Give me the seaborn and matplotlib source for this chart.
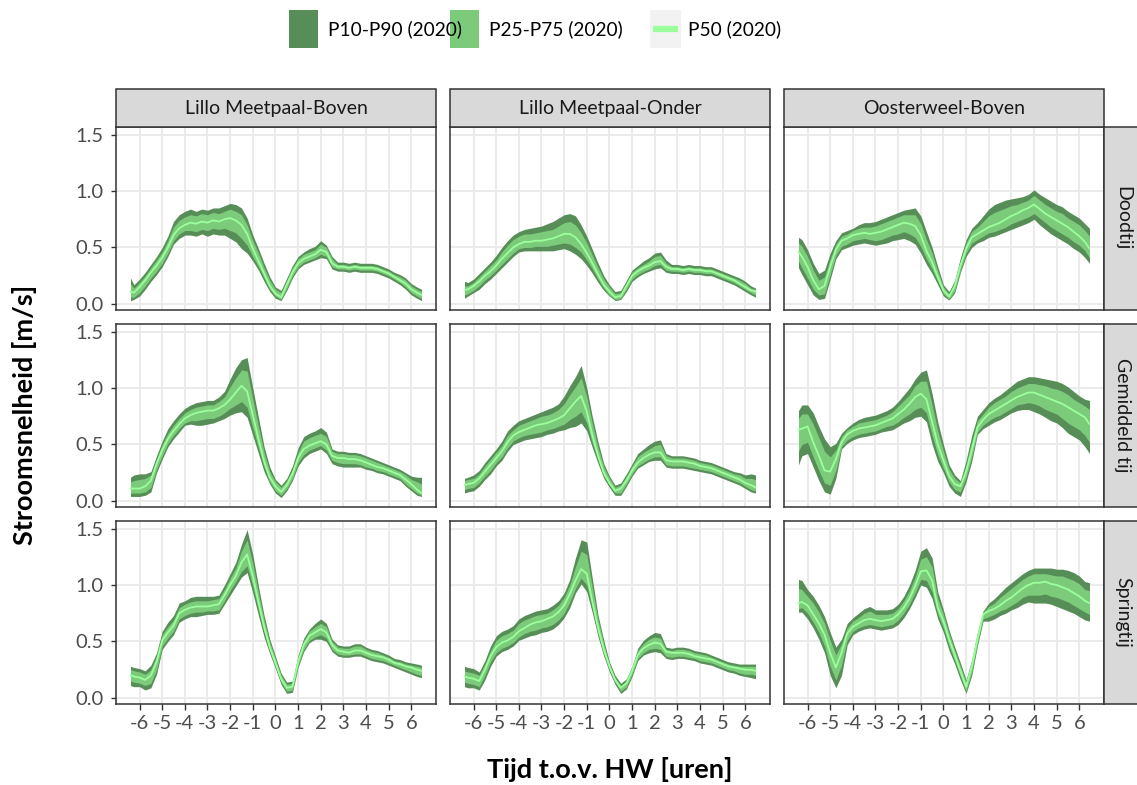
import matplotlib
matplotlib.use("Agg")
import matplotlib.pyplot as plt
from matplotlib.patches import Rectangle
from matplotlib.lines import Line2D
import pandas as pd
import seaborn as sns

# ---------------------------------------------------------------------------
# Time relative to high water (hours)
uren = [-6.4, -6.25, -6.0, -5.75, -5.5, -5.25, -5.0, -4.75, -4.5, -4.25,
        -4.0, -3.75, -3.5, -3.25, -3.0, -2.75, -2.5, -2.25, -2.0, -1.75,
        -1.5, -1.25, -1.0, -0.75, -0.5, -0.25, 0.0, 0.25, 0.5, 0.75,
        1.0, 1.25, 1.5, 1.75, 2.0, 2.25, 2.5, 2.75, 3.0, 3.25,
        3.5, 3.75, 4.0, 4.25, 4.5, 4.75, 5.0, 5.25, 5.5, 5.75,
        6.0, 6.25, 6.45]

stations = ["Lillo Meetpaal-Boven", "Lillo Meetpaal-Onder", "Oosterweel-Boven"]
tijen = ["Doodtij", "Gemiddeld tij", "Springtij"]

# ---------------- Lillo Meetpaal-Boven ----------------
lmb_dood_p10 = [0.03,0.04,0.07,0.13,0.20,0.26,0.33,0.42,0.53,0.58,0.61,0.61,0.60,0.62,0.60,0.62,0.61,0.61,0.58,0.55,0.49,0.45,0.38,0.30,0.20,0.11,0.05,0.03,0.12,0.23,0.31,0.35,0.37,0.39,0.41,0.40,0.31,0.29,0.29,0.28,0.29,0.28,0.28,0.28,0.27,0.25,0.23,0.20,0.17,0.13,0.08,0.05,0.03]
lmb_dood_p25 = [0.06,0.06,0.10,0.16,0.23,0.29,0.36,0.45,0.56,0.62,0.65,0.65,0.64,0.66,0.65,0.67,0.66,0.67,0.65,0.63,0.58,0.52,0.42,0.33,0.23,0.13,0.07,0.04,0.14,0.25,0.33,0.37,0.39,0.41,0.44,0.42,0.33,0.31,0.31,0.30,0.31,0.30,0.30,0.30,0.29,0.27,0.25,0.22,0.19,0.15,0.10,0.07,0.05]
lmb_dood_p50 = [0.11,0.10,0.15,0.21,0.28,0.34,0.41,0.50,0.61,0.67,0.70,0.72,0.71,0.73,0.72,0.74,0.73,0.75,0.76,0.74,0.70,0.62,0.49,0.38,0.27,0.16,0.09,0.06,0.17,0.28,0.36,0.40,0.42,0.44,0.48,0.46,0.36,0.33,0.33,0.32,0.33,0.32,0.32,0.32,0.31,0.29,0.27,0.24,0.21,0.18,0.13,0.10,0.08]
lmb_dood_p75 = [0.18,0.14,0.19,0.25,0.32,0.39,0.46,0.56,0.68,0.74,0.77,0.79,0.78,0.80,0.79,0.81,0.80,0.82,0.84,0.82,0.79,0.70,0.56,0.45,0.32,0.21,0.13,0.10,0.21,0.32,0.40,0.44,0.46,0.48,0.53,0.50,0.40,0.35,0.35,0.34,0.35,0.34,0.34,0.34,0.33,0.31,0.29,0.26,0.24,0.21,0.16,0.13,0.11]
lmb_dood_p90 = [0.23,0.17,0.22,0.28,0.35,0.42,0.50,0.60,0.73,0.79,0.82,0.84,0.82,0.84,0.83,0.85,0.85,0.87,0.89,0.88,0.85,0.76,0.61,0.49,0.36,0.24,0.15,0.12,0.23,0.34,0.42,0.46,0.49,0.51,0.56,0.52,0.42,0.37,0.37,0.36,0.37,0.36,0.36,0.36,0.35,0.33,0.31,0.28,0.26,0.23,0.18,0.15,0.13]

lmb_gem_p10 = [0.04,0.04,0.04,0.05,0.08,0.25,0.37,0.48,0.55,0.61,0.67,0.68,0.67,0.67,0.68,0.69,0.71,0.73,0.76,0.78,0.79,0.74,0.58,0.42,0.26,0.15,0.07,0.03,0.09,0.18,0.31,0.38,0.42,0.44,0.46,0.42,0.33,0.31,0.30,0.30,0.30,0.30,0.28,0.27,0.25,0.24,0.22,0.20,0.18,0.13,0.09,0.05,0.04]
lmb_gem_p25 = [0.07,0.07,0.07,0.08,0.12,0.28,0.40,0.51,0.58,0.64,0.69,0.71,0.71,0.72,0.73,0.73,0.75,0.78,0.82,0.85,0.88,0.83,0.65,0.47,0.30,0.17,0.09,0.05,0.11,0.20,0.34,0.41,0.45,0.47,0.49,0.45,0.36,0.34,0.33,0.33,0.33,0.32,0.30,0.29,0.27,0.26,0.24,0.22,0.20,0.15,0.11,0.07,0.05]
lmb_gem_p50 = [0.11,0.11,0.11,0.13,0.18,0.33,0.45,0.55,0.62,0.68,0.73,0.76,0.78,0.79,0.80,0.80,0.82,0.85,0.90,0.96,1.02,0.97,0.76,0.55,0.35,0.21,0.13,0.08,0.14,0.24,0.38,0.46,0.49,0.51,0.53,0.50,0.40,0.38,0.38,0.37,0.37,0.36,0.34,0.32,0.30,0.29,0.27,0.25,0.23,0.19,0.15,0.10,0.07]
lmb_gem_p75 = [0.17,0.18,0.19,0.20,0.23,0.37,0.50,0.60,0.67,0.73,0.78,0.81,0.83,0.84,0.85,0.85,0.88,0.92,1.01,1.09,1.16,1.15,0.90,0.66,0.43,0.26,0.17,0.12,0.18,0.28,0.43,0.53,0.56,0.58,0.60,0.57,0.44,0.42,0.42,0.41,0.41,0.40,0.38,0.36,0.34,0.32,0.30,0.28,0.26,0.23,0.19,0.17,0.15]
lmb_gem_p90 = [0.21,0.23,0.24,0.24,0.26,0.40,0.53,0.64,0.71,0.77,0.82,0.85,0.87,0.88,0.89,0.89,0.92,0.97,1.08,1.18,1.25,1.27,1.00,0.74,0.48,0.30,0.19,0.14,0.20,0.31,0.47,0.57,0.60,0.62,0.65,0.61,0.46,0.44,0.44,0.43,0.43,0.42,0.40,0.38,0.36,0.34,0.32,0.30,0.28,0.25,0.22,0.21,0.21]

lmb_spring_p10 = [0.11,0.10,0.10,0.07,0.09,0.21,0.43,0.50,0.56,0.67,0.70,0.72,0.72,0.73,0.74,0.74,0.75,0.83,0.91,0.99,1.07,1.11,0.93,0.73,0.54,0.39,0.26,0.12,0.04,0.05,0.27,0.41,0.49,0.52,0.52,0.50,0.41,0.37,0.36,0.36,0.37,0.37,0.35,0.33,0.32,0.31,0.29,0.27,0.25,0.23,0.21,0.19,0.18]
lmb_spring_p25 = [0.15,0.14,0.13,0.11,0.13,0.25,0.46,0.53,0.59,0.70,0.73,0.75,0.76,0.76,0.77,0.77,0.78,0.86,0.95,1.03,1.12,1.17,0.99,0.78,0.58,0.41,0.28,0.14,0.06,0.07,0.29,0.43,0.51,0.54,0.56,0.53,0.43,0.39,0.38,0.38,0.39,0.39,0.37,0.35,0.34,0.33,0.31,0.29,0.27,0.25,0.23,0.21,0.20]
lmb_spring_p50 = [0.20,0.19,0.18,0.16,0.20,0.32,0.51,0.58,0.64,0.75,0.78,0.80,0.81,0.81,0.81,0.82,0.83,0.91,1.00,1.08,1.20,1.27,1.08,0.85,0.63,0.45,0.31,0.17,0.09,0.10,0.32,0.47,0.55,0.58,0.61,0.58,0.47,0.42,0.41,0.40,0.42,0.42,0.40,0.38,0.37,0.36,0.34,0.31,0.30,0.28,0.27,0.25,0.24]
lmb_spring_p75 = [0.25,0.24,0.23,0.21,0.25,0.37,0.56,0.63,0.69,0.80,0.83,0.85,0.86,0.86,0.86,0.87,0.88,0.96,1.06,1.15,1.30,1.40,1.19,0.93,0.69,0.49,0.35,0.20,0.12,0.13,0.36,0.51,0.59,0.63,0.66,0.63,0.50,0.45,0.44,0.44,0.46,0.46,0.43,0.41,0.40,0.38,0.36,0.33,0.32,0.30,0.29,0.28,0.27]
lmb_spring_p90 = [0.28,0.27,0.26,0.24,0.29,0.40,0.59,0.67,0.73,0.84,0.86,0.89,0.90,0.90,0.90,0.90,0.91,1.00,1.10,1.20,1.36,1.49,1.27,0.99,0.73,0.52,0.37,0.22,0.14,0.15,0.38,0.53,0.61,0.66,0.70,0.66,0.52,0.47,0.46,0.46,0.48,0.48,0.45,0.43,0.42,0.40,0.38,0.35,0.34,0.32,0.31,0.30,0.29]

# ---------------- Lillo Meetpaal-Onder ----------------
lmo_dood_p10 = [0.05,0.07,0.10,0.13,0.18,0.22,0.27,0.32,0.37,0.42,0.46,0.47,0.47,0.47,0.47,0.47,0.47,0.48,0.49,0.47,0.44,0.40,0.34,0.27,0.19,0.12,0.07,0.03,0.04,0.11,0.20,0.24,0.27,0.29,0.31,0.32,0.28,0.27,0.27,0.26,0.27,0.26,0.26,0.25,0.25,0.23,0.21,0.19,0.17,0.14,0.11,0.08,0.06]
lmo_dood_p25 = [0.08,0.09,0.12,0.16,0.21,0.25,0.30,0.35,0.40,0.45,0.49,0.50,0.50,0.51,0.51,0.51,0.52,0.53,0.54,0.53,0.50,0.46,0.39,0.31,0.22,0.14,0.08,0.04,0.05,0.13,0.22,0.26,0.29,0.31,0.34,0.35,0.30,0.29,0.29,0.28,0.29,0.28,0.28,0.27,0.27,0.25,0.23,0.21,0.19,0.16,0.13,0.10,0.08]
lmo_dood_p50 = [0.12,0.13,0.16,0.20,0.25,0.29,0.34,0.40,0.45,0.50,0.53,0.55,0.55,0.56,0.56,0.57,0.58,0.60,0.62,0.62,0.59,0.53,0.45,0.36,0.26,0.17,0.11,0.06,0.07,0.16,0.25,0.29,0.32,0.34,0.37,0.38,0.33,0.31,0.31,0.30,0.31,0.30,0.30,0.29,0.29,0.27,0.25,0.23,0.21,0.18,0.15,0.12,0.11]
lmo_dood_p75 = [0.16,0.16,0.19,0.24,0.29,0.34,0.39,0.46,0.52,0.57,0.60,0.62,0.62,0.63,0.64,0.65,0.66,0.69,0.72,0.73,0.70,0.63,0.54,0.43,0.32,0.22,0.15,0.09,0.10,0.19,0.28,0.32,0.35,0.38,0.42,0.43,0.36,0.33,0.33,0.32,0.33,0.32,0.32,0.31,0.31,0.29,0.27,0.25,0.23,0.21,0.18,0.14,0.13]
lmo_dood_p90 = [0.20,0.19,0.22,0.27,0.32,0.37,0.43,0.50,0.56,0.61,0.64,0.66,0.67,0.68,0.69,0.71,0.73,0.76,0.79,0.80,0.78,0.70,0.60,0.48,0.36,0.25,0.17,0.11,0.12,0.21,0.30,0.34,0.38,0.41,0.45,0.46,0.39,0.35,0.35,0.34,0.35,0.34,0.34,0.33,0.33,0.31,0.29,0.27,0.25,0.23,0.20,0.16,0.14]

lmo_gem_p10 = [0.07,0.08,0.09,0.13,0.19,0.24,0.31,0.36,0.44,0.50,0.52,0.54,0.55,0.56,0.57,0.59,0.60,0.62,0.63,0.65,0.66,0.69,0.62,0.47,0.33,0.20,0.12,0.05,0.05,0.13,0.22,0.29,0.32,0.35,0.36,0.36,0.30,0.29,0.29,0.29,0.28,0.27,0.26,0.25,0.24,0.22,0.20,0.18,0.16,0.14,0.11,0.08,0.07]
lmo_gem_p25 = [0.10,0.11,0.12,0.16,0.22,0.27,0.34,0.39,0.47,0.53,0.56,0.58,0.59,0.60,0.61,0.63,0.64,0.66,0.68,0.72,0.75,0.79,0.69,0.51,0.36,0.22,0.14,0.07,0.07,0.15,0.24,0.31,0.34,0.37,0.39,0.39,0.32,0.31,0.31,0.31,0.30,0.29,0.28,0.27,0.26,0.24,0.22,0.20,0.18,0.16,0.13,0.10,0.09]
lmo_gem_p50 = [0.14,0.15,0.16,0.20,0.26,0.32,0.38,0.44,0.52,0.58,0.61,0.63,0.65,0.67,0.68,0.69,0.71,0.73,0.76,0.82,0.88,0.93,0.79,0.58,0.40,0.25,0.16,0.09,0.11,0.18,0.27,0.34,0.38,0.41,0.43,0.43,0.36,0.35,0.35,0.35,0.34,0.33,0.31,0.30,0.29,0.27,0.25,0.23,0.21,0.19,0.16,0.14,0.12]
lmo_gem_p75 = [0.18,0.19,0.20,0.24,0.31,0.37,0.43,0.49,0.58,0.63,0.67,0.69,0.71,0.73,0.75,0.76,0.78,0.81,0.86,0.94,1.01,1.09,0.92,0.68,0.47,0.30,0.20,0.12,0.14,0.22,0.31,0.39,0.43,0.46,0.49,0.50,0.40,0.38,0.38,0.38,0.37,0.36,0.34,0.33,0.32,0.30,0.28,0.26,0.24,0.23,0.20,0.20,0.19]
lmo_gem_p90 = [0.20,0.21,0.23,0.27,0.34,0.40,0.46,0.53,0.62,0.67,0.71,0.73,0.75,0.77,0.79,0.81,0.83,0.86,0.93,1.02,1.10,1.20,1.00,0.74,0.52,0.33,0.22,0.14,0.16,0.24,0.33,0.42,0.46,0.50,0.53,0.54,0.42,0.40,0.40,0.40,0.39,0.38,0.36,0.35,0.34,0.32,0.30,0.28,0.26,0.25,0.23,0.24,0.23]

lmo_spring_p10 = [0.10,0.09,0.09,0.07,0.16,0.28,0.37,0.41,0.43,0.46,0.51,0.53,0.55,0.56,0.58,0.59,0.61,0.65,0.71,0.80,0.93,1.01,0.94,0.75,0.54,0.37,0.23,0.12,0.04,0.08,0.19,0.33,0.38,0.40,0.41,0.40,0.35,0.34,0.35,0.35,0.34,0.33,0.31,0.30,0.29,0.27,0.25,0.23,0.22,0.20,0.19,0.18,0.17]
lmo_spring_p25 = [0.14,0.13,0.12,0.10,0.20,0.32,0.40,0.44,0.46,0.49,0.54,0.57,0.59,0.60,0.62,0.63,0.65,0.69,0.75,0.85,0.97,1.06,1.00,0.79,0.57,0.39,0.25,0.14,0.06,0.10,0.21,0.35,0.40,0.43,0.44,0.43,0.37,0.36,0.37,0.37,0.36,0.35,0.33,0.32,0.31,0.29,0.27,0.25,0.24,0.22,0.21,0.21,0.20]
lmo_spring_p50 = [0.19,0.18,0.17,0.15,0.25,0.37,0.45,0.49,0.51,0.54,0.59,0.62,0.65,0.67,0.68,0.70,0.72,0.76,0.82,0.92,1.04,1.14,1.10,0.85,0.62,0.43,0.28,0.16,0.09,0.13,0.24,0.38,0.44,0.47,0.49,0.48,0.41,0.40,0.40,0.40,0.39,0.37,0.36,0.35,0.34,0.32,0.30,0.28,0.27,0.26,0.25,0.25,0.24]
lmo_spring_p75 = [0.24,0.23,0.22,0.20,0.30,0.42,0.51,0.55,0.57,0.60,0.66,0.69,0.71,0.73,0.74,0.75,0.78,0.82,0.89,1.00,1.16,1.30,1.27,0.97,0.69,0.48,0.30,0.18,0.11,0.15,0.26,0.42,0.48,0.52,0.54,0.53,0.43,0.42,0.43,0.43,0.42,0.40,0.39,0.38,0.36,0.34,0.32,0.30,0.29,0.28,0.28,0.28,0.28]
lmo_spring_p90 = [0.28,0.27,0.26,0.23,0.33,0.46,0.55,0.59,0.61,0.64,0.70,0.73,0.75,0.77,0.78,0.79,0.82,0.86,0.93,1.05,1.24,1.40,1.38,1.05,0.73,0.51,0.32,0.20,0.13,0.17,0.28,0.44,0.51,0.55,0.58,0.57,0.45,0.44,0.45,0.45,0.44,0.42,0.41,0.40,0.38,0.36,0.34,0.32,0.31,0.30,0.30,0.30,0.30]

# ---------------- Oosterweel-Boven ----------------
ob_dood_p10 = [0.32,0.26,0.17,0.08,0.04,0.05,0.22,0.40,0.48,0.50,0.52,0.53,0.54,0.53,0.52,0.53,0.54,0.56,0.57,0.58,0.56,0.53,0.45,0.35,0.27,0.17,0.07,0.035,0.10,0.28,0.42,0.50,0.54,0.56,0.59,0.60,0.62,0.64,0.66,0.68,0.70,0.72,0.75,0.70,0.66,0.62,0.59,0.56,0.53,0.49,0.46,0.41,0.36]
ob_dood_p25 = [0.38,0.32,0.23,0.13,0.08,0.09,0.26,0.43,0.51,0.53,0.56,0.57,0.58,0.57,0.56,0.57,0.59,0.61,0.62,0.64,0.62,0.59,0.51,0.40,0.31,0.20,0.09,0.045,0.12,0.30,0.45,0.54,0.57,0.60,0.63,0.64,0.66,0.68,0.71,0.73,0.75,0.77,0.80,0.76,0.72,0.68,0.65,0.62,0.59,0.55,0.52,0.47,0.41]
ob_dood_p50 = [0.46,0.42,0.33,0.21,0.13,0.16,0.33,0.48,0.56,0.58,0.61,0.62,0.63,0.62,0.63,0.64,0.66,0.68,0.70,0.72,0.71,0.69,0.61,0.47,0.37,0.24,0.12,0.065,0.16,0.34,0.49,0.59,0.62,0.65,0.68,0.70,0.72,0.75,0.78,0.80,0.83,0.85,0.88,0.84,0.80,0.77,0.74,0.71,0.68,0.64,0.60,0.55,0.49]
ob_dood_p75 = [0.54,0.51,0.42,0.30,0.21,0.24,0.40,0.53,0.60,0.62,0.65,0.67,0.68,0.68,0.69,0.71,0.73,0.75,0.77,0.79,0.79,0.79,0.71,0.57,0.45,0.29,0.15,0.09,0.19,0.38,0.54,0.64,0.68,0.73,0.78,0.81,0.83,0.85,0.87,0.88,0.90,0.92,0.96,0.92,0.88,0.85,0.82,0.80,0.76,0.73,0.70,0.65,0.60]
ob_dood_p90 = [0.59,0.57,0.48,0.36,0.27,0.30,0.45,0.56,0.63,0.65,0.67,0.70,0.72,0.72,0.73,0.75,0.77,0.79,0.81,0.83,0.84,0.85,0.78,0.64,0.50,0.33,0.17,0.11,0.21,0.41,0.57,0.67,0.72,0.78,0.84,0.88,0.90,0.92,0.93,0.94,0.95,0.97,1.01,0.97,0.94,0.91,0.88,0.86,0.82,0.79,0.76,0.71,0.67]

ob_gem_p10 = [0.32,0.40,0.42,0.30,0.18,0.08,0.06,0.20,0.46,0.51,0.54,0.56,0.57,0.58,0.59,0.61,0.62,0.63,0.66,0.69,0.71,0.74,0.75,0.70,0.50,0.35,0.25,0.13,0.07,0.04,0.17,0.35,0.59,0.64,0.67,0.70,0.72,0.75,0.78,0.80,0.81,0.81,0.79,0.77,0.74,0.71,0.69,0.65,0.60,0.57,0.54,0.48,0.42]
ob_gem_p25 = [0.44,0.50,0.52,0.39,0.27,0.16,0.14,0.27,0.48,0.54,0.57,0.59,0.60,0.61,0.62,0.64,0.66,0.67,0.70,0.74,0.77,0.81,0.83,0.78,0.58,0.41,0.29,0.17,0.10,0.08,0.21,0.39,0.61,0.67,0.71,0.74,0.76,0.79,0.82,0.85,0.86,0.87,0.86,0.84,0.81,0.79,0.77,0.73,0.69,0.66,0.63,0.58,0.52]
ob_gem_p50 = [0.63,0.64,0.66,0.52,0.40,0.27,0.26,0.37,0.52,0.59,0.62,0.64,0.65,0.66,0.67,0.69,0.71,0.73,0.77,0.81,0.86,0.92,0.95,0.90,0.70,0.50,0.36,0.22,0.15,0.13,0.26,0.45,0.65,0.72,0.77,0.80,0.83,0.86,0.89,0.92,0.94,0.96,0.96,0.94,0.92,0.90,0.88,0.86,0.83,0.80,0.77,0.74,0.68]
ob_gem_p75 = [0.73,0.77,0.77,0.68,0.56,0.44,0.39,0.45,0.57,0.63,0.66,0.69,0.70,0.71,0.72,0.74,0.76,0.79,0.84,0.89,0.94,1.02,1.06,1.06,0.85,0.62,0.44,0.28,0.20,0.16,0.32,0.53,0.71,0.77,0.83,0.87,0.90,0.93,0.97,1.00,1.02,1.04,1.04,1.03,1.02,1.00,0.99,0.97,0.94,0.90,0.87,0.84,0.81]
ob_gem_p90 = [0.80,0.85,0.85,0.78,0.66,0.55,0.48,0.51,0.60,0.65,0.69,0.72,0.74,0.75,0.76,0.78,0.80,0.83,0.88,0.94,1.00,1.08,1.14,1.16,0.95,0.70,0.50,0.32,0.23,0.18,0.36,0.58,0.75,0.81,0.87,0.91,0.94,0.98,1.02,1.06,1.08,1.10,1.10,1.09,1.08,1.07,1.06,1.04,1.01,0.97,0.93,0.90,0.89]

ob_spring_p10 = [0.76,0.76,0.70,0.62,0.52,0.40,0.20,0.09,0.20,0.47,0.56,0.59,0.61,0.62,0.61,0.60,0.61,0.62,0.65,0.71,0.79,0.89,1.00,0.98,0.88,0.70,0.58,0.42,0.30,0.16,0.04,0.20,0.46,0.68,0.68,0.70,0.73,0.75,0.78,0.80,0.83,0.85,0.84,0.84,0.84,0.83,0.81,0.79,0.77,0.75,0.72,0.69,0.68]
ob_spring_p25 = [0.79,0.80,0.75,0.67,0.58,0.46,0.28,0.16,0.29,0.51,0.59,0.62,0.64,0.65,0.64,0.63,0.64,0.65,0.69,0.75,0.83,0.93,1.05,1.04,0.94,0.74,0.62,0.46,0.33,0.19,0.06,0.23,0.48,0.70,0.72,0.74,0.77,0.79,0.82,0.85,0.89,0.91,0.91,0.91,0.92,0.90,0.89,0.87,0.85,0.82,0.79,0.76,0.74]
ob_spring_p50 = [0.84,0.85,0.82,0.74,0.66,0.56,0.40,0.27,0.40,0.57,0.63,0.66,0.69,0.70,0.69,0.68,0.69,0.70,0.74,0.80,0.88,0.99,1.12,1.13,1.04,0.80,0.68,0.52,0.38,0.24,0.10,0.28,0.52,0.74,0.77,0.79,0.82,0.86,0.89,0.93,0.97,1.00,1.02,1.02,1.03,1.01,1.00,0.98,0.96,0.93,0.90,0.86,0.84]
ob_spring_p75 = [0.97,0.96,0.90,0.84,0.76,0.66,0.51,0.38,0.48,0.62,0.68,0.71,0.75,0.77,0.74,0.74,0.74,0.75,0.79,0.86,0.95,1.07,1.23,1.25,1.16,0.88,0.74,0.57,0.42,0.28,0.14,0.32,0.56,0.76,0.81,0.84,0.89,0.93,0.97,1.01,1.05,1.08,1.10,1.10,1.10,1.09,1.08,1.08,1.06,1.04,1.01,0.96,0.95]
ob_spring_p90 = [1.05,1.04,0.96,0.90,0.82,0.72,0.58,0.45,0.52,0.66,0.71,0.75,0.79,0.81,0.78,0.78,0.78,0.79,0.83,0.90,1.00,1.13,1.30,1.33,1.24,0.94,0.78,0.60,0.45,0.31,0.16,0.34,0.58,0.77,0.84,0.88,0.93,0.98,1.02,1.06,1.10,1.13,1.15,1.15,1.15,1.15,1.14,1.14,1.13,1.11,1.08,1.03,1.02]

panel_series = {
    ("Lillo Meetpaal-Boven", "Doodtij"): (lmb_dood_p10, lmb_dood_p25, lmb_dood_p50, lmb_dood_p75, lmb_dood_p90),
    ("Lillo Meetpaal-Boven", "Gemiddeld tij"): (lmb_gem_p10, lmb_gem_p25, lmb_gem_p50, lmb_gem_p75, lmb_gem_p90),
    ("Lillo Meetpaal-Boven", "Springtij"): (lmb_spring_p10, lmb_spring_p25, lmb_spring_p50, lmb_spring_p75, lmb_spring_p90),
    ("Lillo Meetpaal-Onder", "Doodtij"): (lmo_dood_p10, lmo_dood_p25, lmo_dood_p50, lmo_dood_p75, lmo_dood_p90),
    ("Lillo Meetpaal-Onder", "Gemiddeld tij"): (lmo_gem_p10, lmo_gem_p25, lmo_gem_p50, lmo_gem_p75, lmo_gem_p90),
    ("Lillo Meetpaal-Onder", "Springtij"): (lmo_spring_p10, lmo_spring_p25, lmo_spring_p50, lmo_spring_p75, lmo_spring_p90),
    ("Oosterweel-Boven", "Doodtij"): (ob_dood_p10, ob_dood_p25, ob_dood_p50, ob_dood_p75, ob_dood_p90),
    ("Oosterweel-Boven", "Gemiddeld tij"): (ob_gem_p10, ob_gem_p25, ob_gem_p50, ob_gem_p75, ob_gem_p90),
    ("Oosterweel-Boven", "Springtij"): (ob_spring_p10, ob_spring_p25, ob_spring_p50, ob_spring_p75, ob_spring_p90),
}

x_ticks = [-6, -5, -4, -3, -2, -1, 0, 1, 2, 3, 4, 5, 6]
y_ticks = [0.0, 0.5, 1.0, 1.5]
y_ticklabels = ["0.0", "0.5", "1.0", "1.5"]

# ---------------------------------------------------------------------------
frames = []
for (station, tij), (p10, p25, p50, p75, p90) in panel_series.items():
    frames.append(pd.DataFrame({"station": station, "tij": tij, "uur": uren,
                                "p10": p10, "p25": p25, "p50": p50,
                                "p75": p75, "p90": p90}))
df = pd.concat(frames, ignore_index=True)

DARK = "#578E57"
MID = "#7BCB7B"
LIGHT = "#9BFF9B"
STRIP = "#D9D9D9"
EDGE = "#333333"
GRID = "#EBEBEB"
TICKTXT = "#4D4D4D"

sns.set_theme(style="whitegrid")
plt.rcParams["font.family"] = ["Lato", "DejaVu Sans"]

W, H = 1137, 785
fig = plt.figure(figsize=(W / 100, H / 100), dpi=100)


def fig_rect(x0, y0, x1, y1, **kw):
    return Rectangle((x0 / W, 1 - y1 / H), (x1 - x0) / W, (y1 - y0) / H,
                     transform=fig.transFigure, **kw)


col_left = [116, 450, 784]
row_top = [126.5, 323.5, 520.5]
pw, ph = 320, 183

for r, tij in enumerate(tijen):
    for c, station in enumerate(stations):
        x0, y0 = col_left[c], row_top[r]
        ax = fig.add_axes([x0 / W, 1 - (y0 + ph) / H, pw / W, ph / H])
        sub = df[(df.station == station) & (df.tij == tij)]
        ax.fill_between(sub["uur"], sub["p10"], sub["p90"], color=DARK, lw=0, zorder=2)
        ax.fill_between(sub["uur"], sub["p25"], sub["p75"], color=MID, lw=0, zorder=3)
        sns.lineplot(data=sub, x="uur", y="p50", color=LIGHT, lw=1.3, ax=ax,
                     zorder=4, legend=False)
        ax.set_xlim(-7.04, 7.09)
        ax.set_ylim(-0.049, 1.571)
        ax.set_xticks(x_ticks)
        ax.set_yticks(y_ticks)
        ax.grid(True, color=GRID, lw=1.4)
        ax.set_axisbelow(True)
        ax.set_facecolor("white")
        ax.set_xlabel("")
        ax.set_ylabel("")
        for s in ax.spines.values():
            s.set_color(EDGE)
            s.set_linewidth(1.1)
            s.set_visible(True)
        ax.tick_params(axis="both", which="both", direction="out", color=EDGE,
                       width=1.0, labelcolor=TICKTXT, labelsize=14.5)
        ax.tick_params(axis="x", length=4.3, pad=4,
                       bottom=(r == 2), labelbottom=(r == 2))
        ax.tick_params(axis="y", length=3.8, pad=5,
                       left=(c == 0), labelleft=(c == 0))
        if c == 0:
            ax.set_yticklabels(y_ticklabels)
        if r == 2:
            ax.set_xticklabels([str(v) for v in x_ticks])

        if r == 0:
            fig.add_artist(fig_rect(x0, 89, x0 + pw, y0, facecolor=STRIP,
                                    edgecolor=EDGE, lw=1.1))
            fig.text((x0 + pw / 2) / W, 1 - 108.5 / H, station, ha="center",
                     va="center", fontsize=14, color="#1A1A1A")
        if c == 2:
            fig.add_artist(fig_rect(x0 + pw, y0, x0 + pw + 38, y0 + ph,
                                    facecolor=STRIP, edgecolor=EDGE, lw=1.1))
            fig.text((x0 + pw + 18.5) / W, 1 - (y0 + ph / 2) / H, tij,
                     ha="center", va="center", rotation=270, fontsize=14,
                     color="#1A1A1A")

# axis titles
fig.text(609.5 / W, 1 - 769 / H, "Tijd t.o.v. HW [uren]", ha="center",
         va="center", fontsize=19.5, fontweight="bold", color="black")
fig.text(25 / W, 1 - 415 / H, "Stroomsnelheid [m/s]", ha="center",
         va="center", rotation=90, fontsize=19.5, fontweight="bold",
         color="black")

# legend on top
fig.add_artist(fig_rect(289, 9.5, 318, 47.5, facecolor=DARK, edgecolor="none"))
fig.text(328 / W, 1 - 29 / H, "P10-P90 (2020)", ha="left", va="center",
         fontsize=13.8, color="black")
fig.add_artist(fig_rect(450, 9.5, 479, 47.5, facecolor=MID, edgecolor="none"))
fig.text(489 / W, 1 - 29 / H, "P25-P75 (2020)", ha="left", va="center",
         fontsize=13.8, color="black")
fig.add_artist(fig_rect(650, 9.5, 681, 47.5, facecolor="#F2F2F2", edgecolor="none"))
fig.add_artist(Line2D([653 / W, 678 / W], [1 - 29 / H, 1 - 29 / H],
                      transform=fig.transFigure, color=LIGHT, lw=4.5,
                      solid_capstyle="butt"))
fig.text(688 / W, 1 - 29 / H, "P50 (2020)", ha="left", va="center",
         fontsize=13.8, color="black")

fig.savefig("out.png", dpi=100, facecolor="white")
